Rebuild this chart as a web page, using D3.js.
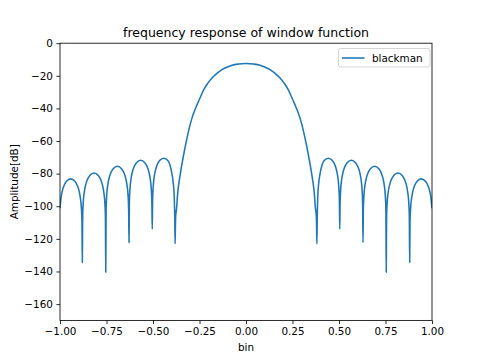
<!DOCTYPE html>
<html><head><meta charset="utf-8">
<script src="https://cdn.jsdelivr.net/npm/d3@7"></script>
<style>
html,body{margin:0;padding:0;background:#fff;}
text{font-family:"DejaVu Sans",sans-serif;fill:#000;}
</style></head>
<body><svg id="c" width="480" height="360"></svg>
<script>
const binX = [
-1.000,-0.995,-0.9875,-0.9775,-0.965,-0.9425,-0.920,-0.9075,-0.8975,-0.890,-0.885,-0.8819,-0.880,
-0.8781,-0.875,-0.8699,-0.8624,-0.8523,-0.8397,-0.817,-0.7943,-0.7817,-0.7716,-0.7641,-0.759,-0.7559,-0.754,
-0.7521,-0.749,-0.744,-0.7365,-0.7265,-0.714,-0.6915,-0.669,-0.6565,-0.6465,-0.639,-0.634,-0.6309,-0.629,
-0.6271,-0.624,-0.619,-0.6115,-0.6015,-0.589,-0.5665,-0.544,-0.5315,-0.5215,-0.514,-0.509,-0.5059,-0.504,
-0.5022,-0.4991,-0.4942,-0.4868,-0.4769,-0.4646,-0.4425,-0.4204,-0.4081,-0.3982,-0.3908,-0.3859,-0.3828,-0.381,
-0.3795,-0.378,-0.373,-0.368,-0.362,-0.355,-0.348,-0.335,-0.317,-0.30,-0.29,-0.275,-0.263,-0.245,-0.227,-0.205,-0.183,-0.155,-0.129,-0.10,-0.075,-0.04,0,
0.04,0.075,0.10,0.129,0.155,0.183,0.205,0.227,0.245,0.263,0.275,0.29,0.30,0.317,0.335,0.348,0.355,0.362,0.368,0.373,0.378,0.3795,0.381,
0.3828,0.3859,0.3908,0.3982,0.4081,0.4204,0.4425,0.4646,0.4769,0.4868,0.4942,0.4991,0.5022,0.504,
0.5059,0.509,0.514,0.5215,0.5315,0.544,0.5665,0.589,0.6015,0.6115,0.619,0.624,0.6271,0.629,
0.6309,0.634,0.639,0.6465,0.6565,0.669,0.6915,0.714,0.7265,0.7365,0.744,0.749,0.7521,0.754,
0.7559,0.759,0.7641,0.7716,0.7817,0.7943,0.817,0.8397,0.8523,0.8624,0.8699,0.875,0.8781,0.880,
0.8819,0.885,0.890,0.8975,0.9075,0.920,0.9425,0.965,0.9775,0.9875,0.995,1.000
];
const ampDb = [
-101.2,-95.3,-90.6,-87.1,-84.7,-83.2,-84.7,-87.1,-90.6,-95.3,-101.2,-109.7,-134.5,
-106.1,-97.6,-91.7,-87.0,-83.5,-81.1,-79.6,-81.1,-83.5,-87.0,-91.7,-97.6,-106.1,-140.5,
-102,-93.5,-87.6,-82.9,-79.4,-77.0,-75.5,-77.0,-79.4,-82.9,-87.6,-93.5,-102,-122.3,
-98.3,-89.8,-83.9,-79.2,-75.7,-73.3,-71.8,-73.3,-75.7,-79.2,-83.9,-89.8,-98.3,-114,
-97,-88.5,-82.6,-77.9,-74.4,-72.0,-70.5,-72.0,-75.0,-80.0,-86.0,-94.0,-108,-123,
-112,-106,-101,-93,-86.7,-81.5,-76.5,-68.3,-58.1,-49.8,-45.8,-41,-37.7,-33,-28.5,-24.5,-21.3,-18.4,-16.2,-14.6,-13.5,-12.8,-12.5,
-12.8,-13.5,-14.6,-16.2,-18.4,-21.3,-24.5,-28.5,-33,-37.7,-41,-45.8,-49.8,-58.1,-68.3,-76.5,-81.5,-86.7,-93,-101,-106,-112,-123,
-108,-94.0,-86.0,-80.0,-75.0,-72.0,-70.5,-72.0,-74.4,-77.9,-82.6,-88.5,-97,-114,
-98.3,-89.8,-83.9,-79.2,-75.7,-73.3,-71.8,-73.3,-75.7,-79.2,-83.9,-89.8,-98.3,-122.3,
-102,-93.5,-87.6,-82.9,-79.4,-77.0,-75.5,-77.0,-79.4,-82.9,-87.6,-93.5,-102,-140.5,
-106.1,-97.6,-91.7,-87.0,-83.5,-81.1,-79.6,-81.1,-83.5,-87.0,-91.7,-97.6,-106.1,-134.5,
-109.7,-101.2,-95.3,-90.6,-87.1,-84.7,-83.2,-84.7,-87.1,-90.6,-95.3,-101.2
];
const xTicks = [-1.00,-0.75,-0.50,-0.25,0.00,0.25,0.50,0.75,1.00];
const yTicks = [0,-20,-40,-60,-80,-100,-120,-140,-160];
const seriesName = "blackman";
const titleText = "frequency response of window function";
const xLabel = "bin";
const yLabel = "Amplitude[dB]";

const L=60, R=432, T=43.2, B=320.4;
const svg = d3.select("#c");
const x = d3.scaleLinear().domain([-1,1]).range([L,R]);
const y = d3.scaleLinear().domain([-170,0]).range([B,T]);
const minus = s => s.replace("-", "\u2212");

const data = binX.map((v,i)=>[v, ampDb[i]]);
const g = svg.append("g");
g.append("defs").append("clipPath").attr("id","clip")
  .append("rect").attr("x",L).attr("y",T).attr("width",R-L).attr("height",B-T);
g.append("path").datum(data)
  .attr("clip-path","url(#clip)")
  .attr("fill","none").attr("stroke","#1f77b4").attr("stroke-width",1.56)
  .attr("stroke-linejoin","round").attr("stroke-linecap","butt")
  .attr("d", d3.line().x(d=>x(d[0])).y(d=>y(d[1])).curve(d3.curveMonotoneX));

const xa = svg.append("g").attr("transform",`translate(0,${B})`)
  .call(d3.axisBottom(x).tickValues(xTicks).tickSize(3.6).tickPadding(3.5)
    .tickFormat(d=>minus(d3.format(".2f")(d))));
const ya = svg.append("g").attr("transform",`translate(${L},0)`)
  .call(d3.axisLeft(y).tickValues(yTicks).tickSize(3.6).tickPadding(3.5)
    .tickFormat(d=>minus(String(d))));
[xa,ya].forEach(a=>{
  a.select(".domain").remove();
  a.selectAll(".tick line").attr("stroke","#000").attr("stroke-width",0.83);
  a.selectAll(".tick text").attr("font-size","10.4px").attr("font-family","DejaVu Sans").attr("fill","#000");
});
// spines
svg.append("rect").attr("x",L).attr("y",T).attr("width",R-L).attr("height",B-T)
  .attr("fill","none").attr("stroke","#000").attr("stroke-width",0.83);

svg.append("text").attr("x",(L+R)/2).attr("y",T-6.5).attr("text-anchor","middle")
  .attr("font-size","12.5px").text(titleText);
svg.append("text").attr("x",(L+R)/2).attr("y",351).attr("text-anchor","middle")
  .attr("font-size","10.4px").text(xLabel);
svg.append("text").attr("transform",`translate(18,${(T+B)/2}) rotate(-90)`)
  .attr("text-anchor","middle").attr("font-size","10.4px").text(yLabel);

// legend
const lg = svg.append("g");
lg.append("rect").attr("x",338.5).attr("y",48.5).attr("width",91.5).attr("height",18.5)
  .attr("rx",2).attr("fill","#fff").attr("fill-opacity",0.8).attr("stroke","#cccccc").attr("stroke-width",0.83);
lg.append("line").attr("x1",342).attr("x2",364.5).attr("y1",58).attr("y2",58)
  .attr("stroke","#1f77b4").attr("stroke-width",1.56);
lg.append("text").attr("x",372).attr("y",61.8).attr("font-size","10.4px").text(seriesName);
</script></body></html>
